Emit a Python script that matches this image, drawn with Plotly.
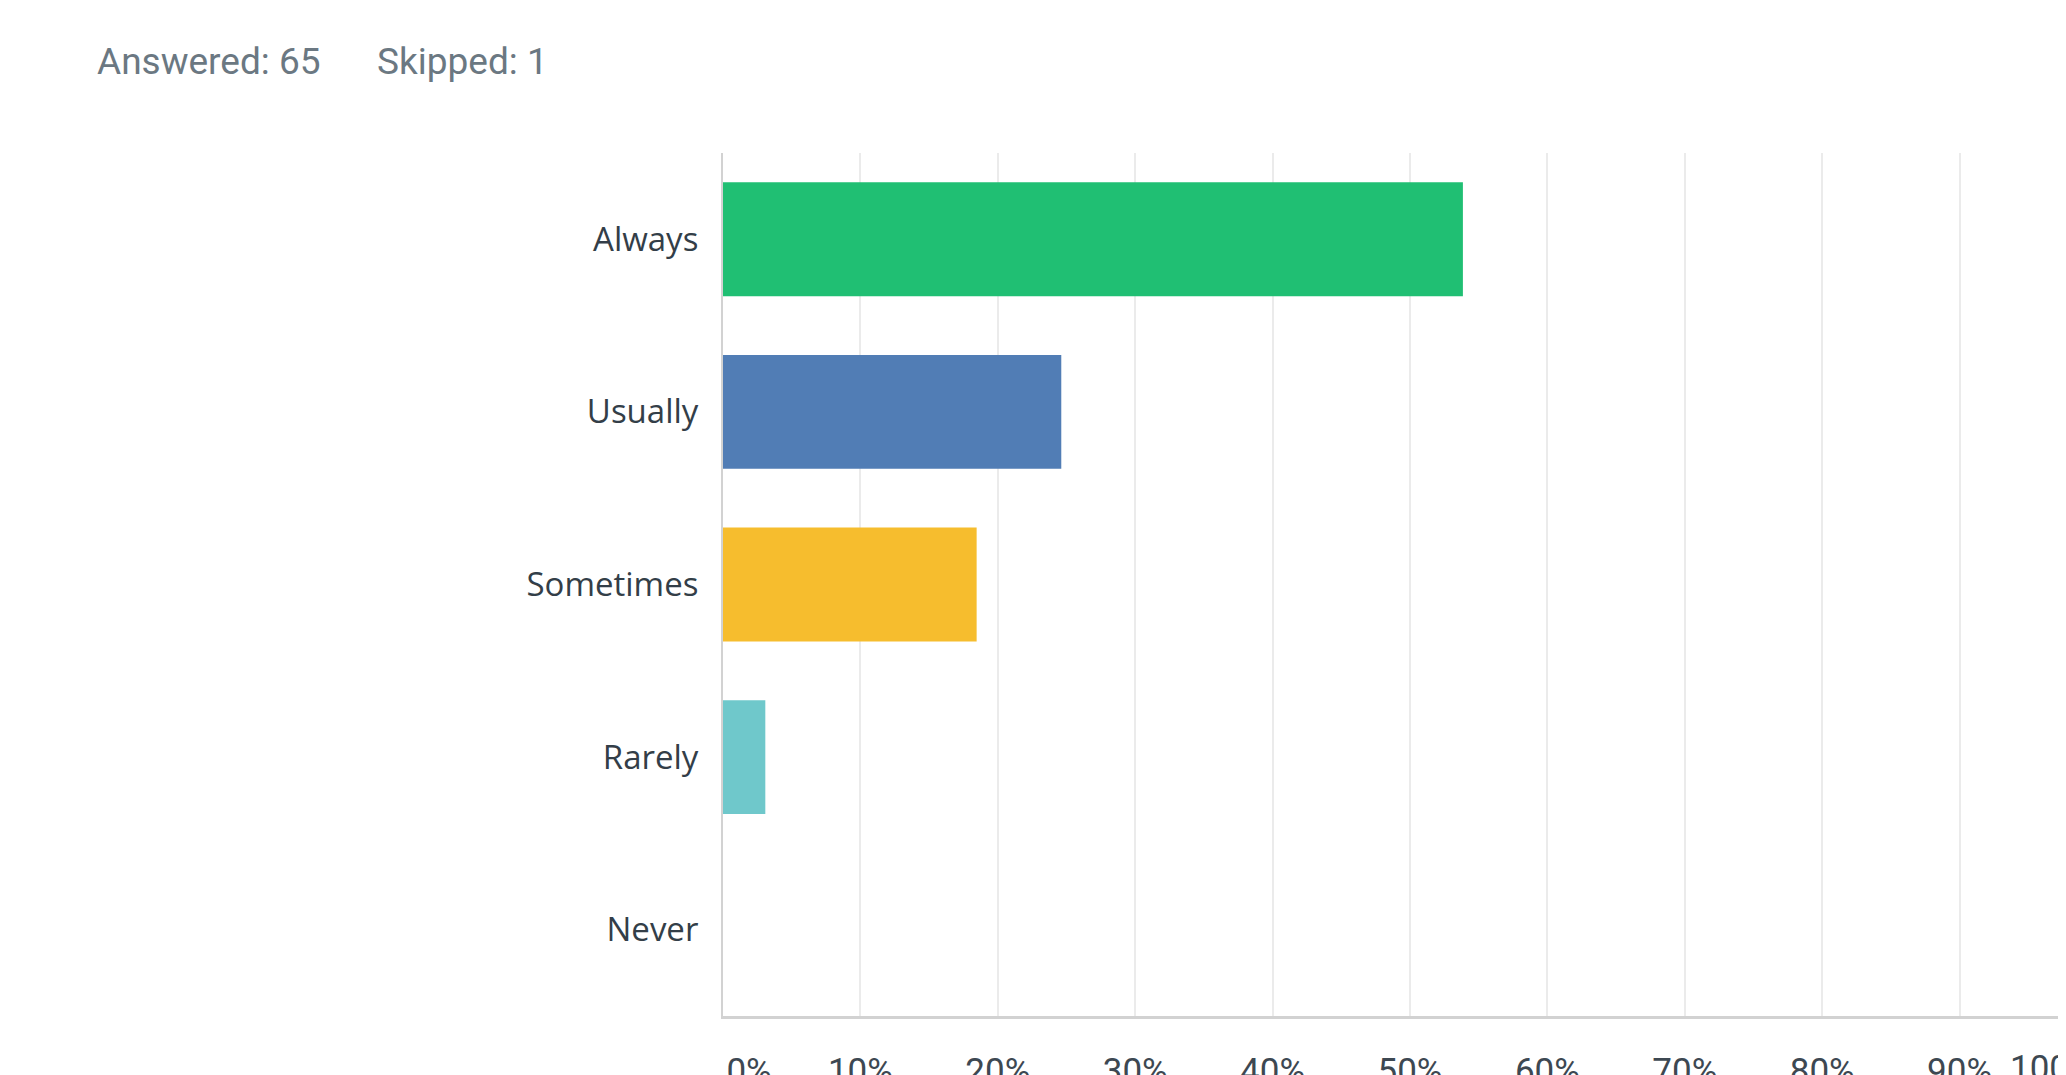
import plotly.graph_objects as go

# ---- data ----
categories = ["Always", "Usually", "Sometimes", "Rarely", "Never"]
percents = [53.85, 24.62, 18.46, 3.08, 0.0]
bar_colors = ["#20bf73", "#517db5", "#f6bd2e", "#6fc8cb", "#9b9b9b"]
tick_values = [0, 10, 20, 30, 40, 50, 60, 70, 80, 90]
tick_labels = ["\u00a0" * 6 + "0%", "10%", "20%", "30%", "40%", "50%", "60%", "70%", "80%", "90%"]
last_tick_value = 100
last_tick_label = "100%"
answered = 65
skipped = 1

# ---- geometry (reference pixels; page body has an 8px margin) ----
OFF = 8
W, H = 2066 - OFF, 1075 - OFF
ML, MT = 723 - OFF, 153 - OFF
AXIS_Y = 1016 - OFF
MB = H - AXIS_Y
MR = 0
plot_w = W - ML - MR
plot_h = H - MT - MB
px_per_pct = 13.74  # pixel width of 1 percentage point in the reference
x_max = plot_w / px_per_pct

def px_to_paper_x(px):
    return (px - OFF - ML) / plot_w

def px_to_paper_y(py):
    return 1 - (py - OFF - MT) / plot_h

fig = go.Figure(
    go.Bar(
        x=percents,
        y=categories,
        orientation="h",
        marker=dict(color=bar_colors, line=dict(width=0)),
        hoverinfo="x+y",
    )
)

text_dark = "#333e48"
font_main = "Open Sans"
tick_font = dict(family="Roboto", size=35, color="#3d4852")

fig.update_layout(
    width=W,
    height=H,
    margin=dict(l=ML, r=MR, t=MT, b=MB, pad=0, autoexpand=False),
    paper_bgcolor="white",
    plot_bgcolor="white",
    bargap=0.34,
    showlegend=False,
    xaxis=dict(
        range=[0, x_max],
        automargin=False,
        tickvals=tick_values,
        ticktext=tick_labels,
        showgrid=True,
        gridcolor="#ebebeb",
        gridwidth=2,
        zeroline=False,
        showline=True,
        linecolor="#d2d2d2",
        linewidth=3,
        ticks="",
        ticklabelstandoff=22,
        tickfont=tick_font,
        fixedrange=True,
    ),
    yaxis=dict(
        categoryorder="array",
        categoryarray=categories,
        autorange="reversed",
        automargin=False,
        showgrid=False,
        zeroline=False,
        showline=True,
        linecolor="#d2d2d2",
        linewidth=2,
        ticks="",
        ticklabelstandoff=16,
        tickfont=dict(family=font_main, size=33, color=text_dark),
        fixedrange=True,
    ),
    annotations=[
        dict(
            text=f"Answered: {answered}",
            xref="paper", yref="paper",
            x=px_to_paper_x(95), y=px_to_paper_y(62),
            xanchor="left", yanchor="middle",
            showarrow=False,
            font=dict(family="Roboto", size=37, color="#6b7882"),
        ),
        dict(
            text=f"Skipped: {skipped}",
            xref="paper", yref="paper",
            x=px_to_paper_x(375), y=px_to_paper_y(62),
            xanchor="left", yanchor="middle",
            showarrow=False,
            font=dict(family="Roboto", size=37, color="#6b7882"),
        ),
        dict(
            text=last_tick_label,
            xref="paper", yref="paper",
            x=last_tick_value / x_max, y=0,
            xanchor="right", yanchor="top", yshift=-30,
            showarrow=False,
            font=tick_font,
        ),
    ],
)

fig.write_html("out.html")
